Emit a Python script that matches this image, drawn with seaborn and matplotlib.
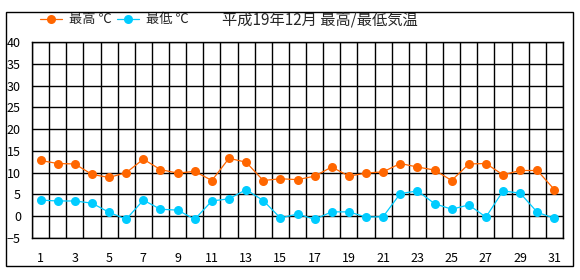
import matplotlib
matplotlib.use("Agg")
import matplotlib.pyplot as plt
import matplotlib.patches as mpatches
import seaborn as sns
import pandas as pd
import numpy as np

days = list(range(1, 32))
max_temp = [12.8, 12.1, 12.0, 9.6, 8.9, 10.0, 13.1, 10.7, 9.9, 10.3, 8.2, 13.3, 12.4, 8.2, 8.6, 8.4,
            9.2, 11.3, 9.2, 9.9, 10.2, 12.1, 11.3, 10.6, 8.2, 12.0, 12.1, 9.5, 10.5, 10.5, 6.1]
min_temp = [3.7, 3.5, 3.5, 3.0, 0.9, -0.7, 3.7, 1.6, 1.4, -0.7, 3.5, 4.0, 6.1, 3.6, -0.4, 0.5,
            -0.7, 1.0, 1.0, -0.2, -0.1, 5.2, 5.8, 2.9, 1.6, 2.6, -0.2, 5.8, 5.3, 0.9, -0.5]
series_names = ["最高 ℃", "最低 ℃"]
title = "平成19年12月 最高/最低気温"
y_ticks = [-5, 0, 5, 10, 15, 20, 25, 30, 35, 40]
x_ticks = list(range(1, 32, 2))
colors = ["#FF6600", "#00CCFF"]

df = pd.DataFrame({
    "day": days * 2,
    "temp": max_temp + min_temp,
    "series": [series_names[0]] * len(days) + [series_names[1]] * len(days),
})

sns.set_style("white")
plt.rcParams["font.family"] = ["Noto Sans CJK JP", "DejaVu Sans"]

fig = plt.figure(figsize=(5.8, 2.8), dpi=100)
ax = fig.add_axes([32 / 580, 42 / 280, 531 / 580, 196 / 280])

sns.lineplot(data=df, x="day", y="temp", hue="series", palette=colors, marker="o",
             markersize=6.5, markeredgewidth=0, linewidth=0.9, ax=ax, legend=True)

ax.set_xlim(0.5, 31.5)
ax.set_ylim(-5, 40)
ax.set_xticks(x_ticks)
ax.set_xticklabels([str(d) for d in x_ticks])
ax.set_yticks(y_ticks)
ax.set_xticks(np.arange(0.5, 32, 1), minor=True)
ax.grid(False)
ax.grid(True, which="minor", axis="x", color="black", linewidth=1.0)
ax.grid(True, which="major", axis="y", color="black", linewidth=1.0)
ax.set_axisbelow(True)
for s in ax.spines.values():
    s.set_color("black")
    s.set_linewidth(1.0)
ax.tick_params(axis="both", which="both", length=0, labelsize=9, colors="black")
ax.tick_params(axis="x", pad=10)
ax.tick_params(axis="y", pad=8)
ax.set_xlabel("")
ax.set_ylabel("")

leg = ax.legend(loc="center left", bbox_to_anchor=(40 / 580, 1 - 20 / 280),
                bbox_transform=fig.transFigure, ncol=2, frameon=False,
                handlelength=1.7, handletextpad=0.5, columnspacing=0.4,
                fontsize=9.5, borderaxespad=0, borderpad=0)

fig.text(222 / 580, 1 - 20 / 280, title, fontsize=11, va="center", ha="left")

fig.patches.append(mpatches.Rectangle((6 / 580, 14 / 280), 567 / 580, 254 / 280,
                                      transform=fig.transFigure, fill=False,
                                      edgecolor="black", linewidth=1.0))

fig.savefig("out.png", dpi=100, facecolor="white")
